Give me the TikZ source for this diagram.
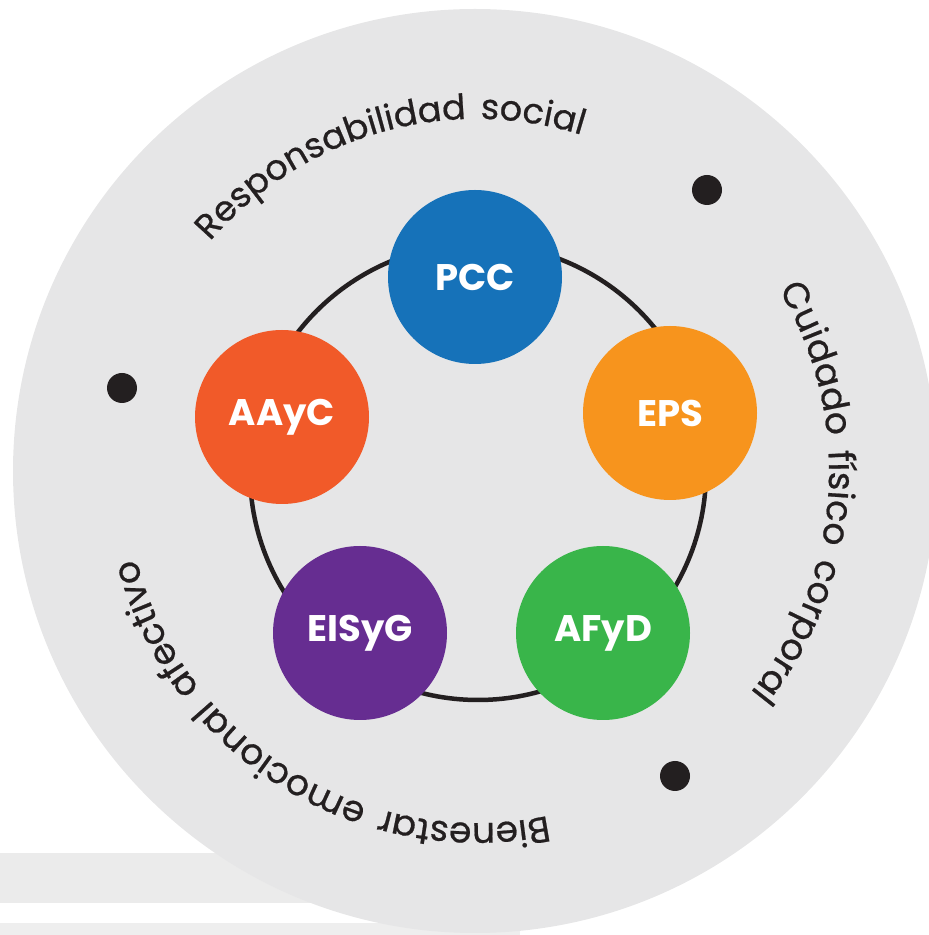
\documentclass[tikz,border=0pt]{standalone}
\usepackage{fontspec}
\setmainfont{Poppins}
\newfontfamily\arcfont{Poppins}[LetterSpace=14,FakeBold=0.6]
\usetikzlibrary{decorations.text}
\definecolor{bggray}{HTML}{E6E6E7}
\definecolor{barA}{HTML}{EBEBEB}
\definecolor{barB}{HTML}{EEEEEE}
\definecolor{pccblue}{HTML}{1672B9}
\definecolor{epsorange}{HTML}{F7941D}
\definecolor{afydgreen}{HTML}{39B54A}
\definecolor{eisygpurple}{HTML}{662D91}
\definecolor{aaycred}{HTML}{F15A29}
\definecolor{txtdark}{HTML}{231F20}
\tikzset{
  area/.style={circle, minimum size=174pt, inner sep=0pt, text=white,
    font=\fontsize{37}{40}\selectfont\bfseries},
  ringline/.style={line width=4.5pt, draw=txtdark},
  blackdot/.style={circle, fill=txtdark, minimum size=30pt, inner sep=0pt},
  arctext/.style 2 args={decorate, decoration={text along path, text align=center,
    text color=txtdark, text={|\arcfont\fontsize{#1}{38}\selectfont|#2}}},
}
\begin{document}
\begin{tikzpicture}[x=1pt,y=1pt]
\useasboundingbox (0,0) rectangle (929,935);
% background bars
\fill[barA] (0,32) rectangle (520,82);
\fill[barB] (0,0) rectangle (520,12);
% big disc
\fill[bggray] (475,464) circle[radius=462];
% ring
\coordinate (R) at (478,463);
\coordinate (O) at (477,464);
\draw[ringline] (R) circle[radius=228];
% nodes
\node[area, fill=pccblue] (pcc) at (475,658) {PCC};
\node[area, fill=aaycred] (aayc) at (282,518) {AAyC};
\node[area, fill=epsorange] (eps) at (670,522) {EPS};
\node[area, fill=eisygpurple] (eisyg) at (360,302) {EISyG};
\node[area, fill=afydgreen] (afyd) at (603,302) {AFyD};
% dots
\node[blackdot] (d1) at (707,745) {};
\node[blackdot] (d2) at (122,547) {};
\node[blackdot] (d3) at (675,159) {};
% arc texts
\path[arctext={35}{Responsabilidad social}] ([shift={(166:352)}]O) arc[start angle=166, end angle=46, radius=352];
\path[arctext={36}{Cuidado físico corporal}] ([shift={(56:352)}]O) arc[start angle=56, end angle=-64, radius=352];
\path[arctext={36}{Bienestar emocional afectivo}] ([shift={(-62:352)}]O) arc[start angle=-62, end angle=-182, radius=352];
\end{tikzpicture}
\end{document}
